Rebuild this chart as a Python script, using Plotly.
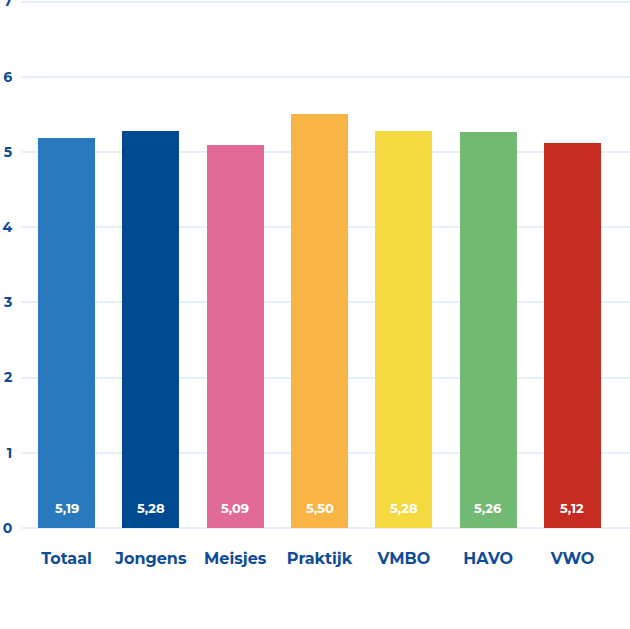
import plotly.graph_objects as go

categories = ["Totaal", "Jongens", "Meisjes", "Praktijk", "VMBO", "HAVO", "VWO"]
values = [5.19, 5.28, 5.09, 5.50, 5.28, 5.26, 5.12]
colors = ["#2a78bd", "#004a92", "#e26a96", "#f8b444", "#f4d941", "#72b974", "#c52b20"]
y_ticks = [0, 1, 2, 3, 4, 5, 6, 7]

navy = "#0f4c97"
font_family = "Montserrat, 'Open Sans', Lato, sans-serif"

fig = go.Figure()
fig.add_trace(go.Bar(
    x=list(range(len(categories))),
    y=values,
    marker=dict(color=colors, line=dict(width=0)),
    width=0.676,
    hoverinfo="skip",
))

# value labels near the base of each bar
for i, v in enumerate(values):
    fig.add_annotation(
        x=i, y=0, yref="y", xref="x",
        text=f"<b>{v:.2f}</b>".replace(".", ","),
        showarrow=False, yanchor="middle", yshift=20,
        font=dict(family=font_family, size=13, color="white"),
    )

fig.update_layout(
    width=630, height=629,
    margin=dict(l=22, r=0, t=0, b=101),
    plot_bgcolor="white", paper_bgcolor="white",
    showlegend=False,
    bargap=0,
    font=dict(family=font_family),
)
fig.update_xaxes(
    tickmode="array",
    tickvals=list(range(len(categories))),
    ticktext=[f"<b>{c}</b>" for c in categories],
    tickfont=dict(family=font_family, size=16, color=navy),
    range=[-0.528, 6.682],
    showgrid=False, zeroline=False, showline=False,
    ticks="outside", ticklen=16, tickcolor="rgba(0,0,0,0)",
    automargin=False,
)
fig.update_yaxes(
    tickmode="array",
    tickvals=y_ticks,
    ticktext=[f"<b>{t}</b>" for t in y_ticks],
    tickfont=dict(family=font_family, size=14, color=navy),
    range=[0, 7.02],
    showgrid=True, gridcolor="#e6f0fb", gridwidth=2,
    zeroline=True, zerolinecolor="#e6f0fb", zerolinewidth=2,
    showline=False,
    ticks="outside", ticklen=6, tickcolor="rgba(0,0,0,0)",
    ticklabeloverflow="allow",
    automargin=False,
)

fig.write_html("out.html")
